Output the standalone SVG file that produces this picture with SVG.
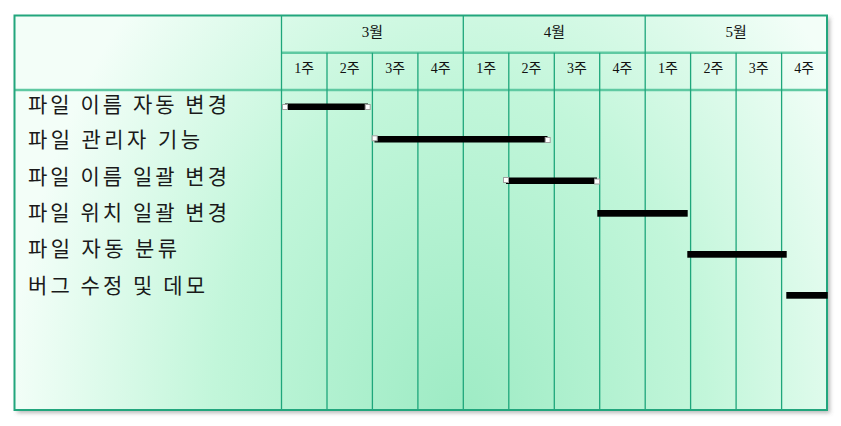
<svg xmlns="http://www.w3.org/2000/svg" width="841" height="426" viewBox="0 0 841 426">
<defs>
<radialGradient id="bg" gradientUnits="userSpaceOnUse" cx="460" cy="420" r="450" gradientTransform="translate(460 420) scale(1 1.35) translate(-460 -420)">
<stop offset="0" stop-color="#9debc4"/>
<stop offset="0.55" stop-color="#c2f6da"/>
<stop offset="1" stop-color="#f3fef8"/>
</radialGradient>
<filter id="sh" x="-5%" y="-5%" width="110%" height="115%">
<feDropShadow dx="3" dy="3" stdDeviation="2" flood-color="#606060" flood-opacity="0.45"/>
</filter>
</defs>
<style>
.grid{stroke:#1ea67b;stroke-width:1.3;fill:none}
.hline{stroke:#5fc9a2;stroke-width:2.5;fill:none}
.mon{font-family:"Liberation Serif","Noto Sans CJK KR",serif;font-size:15px;fill:#111;text-anchor:middle}
.wk{font-family:"Liberation Serif","Noto Sans CJK KR",serif;font-size:14px;fill:#111;text-anchor:middle}
.task{font-family:"Noto Sans CJK KR","Noto Sans CJK SC",sans-serif;font-size:21px;fill:#1a1a1a}
.bar{fill:#000}
.hdl{fill:#fff;stroke:#a0a0a0;stroke-width:1}
</style>
<rect x="14" y="15" width="813" height="395" fill="url(#bg)" filter="url(#sh)"/>
<g id="grid">
<line class="hline" x1="281.5" y1="52.7" x2="827" y2="52.7"/>
<line class="hline" x1="14" y1="90" x2="827" y2="90"/>
<line class="grid" x1="281.5" y1="15" x2="281.5" y2="410"/>
<line class="grid" x1="463.3" y1="15" x2="463.3" y2="410"/>
<line class="grid" x1="645.2" y1="15" x2="645.2" y2="410"/>
<line class="grid" x1="327" y1="52.7" x2="327" y2="410"/>
<line class="grid" x1="372.4" y1="52.7" x2="372.4" y2="410"/>
<line class="grid" x1="417.9" y1="52.7" x2="417.9" y2="410"/>
<line class="grid" x1="508.8" y1="52.7" x2="508.8" y2="410"/>
<line class="grid" x1="554.3" y1="52.7" x2="554.3" y2="410"/>
<line class="grid" x1="599.7" y1="52.7" x2="599.7" y2="410"/>
<line class="grid" x1="690.6" y1="52.7" x2="690.6" y2="410"/>
<line class="grid" x1="736.1" y1="52.7" x2="736.1" y2="410"/>
<line class="grid" x1="781.6" y1="52.7" x2="781.6" y2="410"/>
<rect x="14.5" y="15.5" width="812.5" height="394.5" fill="none" stroke="#22a67d" stroke-width="2"/>
</g>
<g id="months">
<text class="mon" x="372.4" y="37">3월</text>
<text class="mon" x="554.3" y="37">4월</text>
<text class="mon" x="736.1" y="37">5월</text>
</g>
<g id="weeks">
<text class="wk" x="304.2" y="73">1주</text>
<text class="wk" x="349.7" y="73">2주</text>
<text class="wk" x="395.1" y="73">3주</text>
<text class="wk" x="440.6" y="73">4주</text>
<text class="wk" x="486.1" y="73">1주</text>
<text class="wk" x="531.5" y="73">2주</text>
<text class="wk" x="577" y="73">3주</text>
<text class="wk" x="622.4" y="73">4주</text>
<text class="wk" x="667.9" y="73">1주</text>
<text class="wk" x="713.4" y="73">2주</text>
<text class="wk" x="758.8" y="73">3주</text>
<text class="wk" x="804.3" y="73">4주</text>
</g>
<g id="tasks">
<text class="task" x="28" y="111.5" textLength="199" lengthAdjust="spacing">파일 이름 자동 변경</text>
<text class="task" x="28" y="147" textLength="172" lengthAdjust="spacing">파일 관리자 기능</text>
<text class="task" x="28" y="183.5" textLength="199" lengthAdjust="spacing">파일 이름 일괄 변경</text>
<text class="task" x="28" y="219.5" textLength="199" lengthAdjust="spacing">파일 위치 일괄 변경</text>
<text class="task" x="28" y="256" textLength="149" lengthAdjust="spacing">파일 자동 분류</text>
<text class="task" x="28" y="292.5" textLength="177" lengthAdjust="spacing">버그 수정 및 데모</text>
</g>
<g id="bar1">
<rect class="bar" x="285" y="103.5" width="83" height="6.5"/>
<rect class="hdl" x="282.5" y="104.5" width="5" height="5"/>
<rect class="hdl" x="365.2" y="104.5" width="5" height="5"/>
</g>
<g id="bar2">
<rect class="bar" x="374.5" y="136" width="173" height="6.5"/>
<rect class="hdl" x="372.2" y="135.8" width="5" height="5"/>
<rect class="hdl" x="545.2" y="137.5" width="5" height="5"/>
</g>
<g id="bar3">
<rect class="bar" x="506" y="177.5" width="91" height="6.5"/>
<rect class="hdl" x="503.5" y="177.5" width="5" height="5"/>
<rect class="hdl" x="594.5" y="179" width="5" height="5"/>
</g>
<g id="bar4">
<rect class="bar" x="597.3" y="210" width="90.4" height="6.7"/>
</g>
<g id="bar5">
<rect class="bar" x="687.3" y="251" width="99.4" height="6.7"/>
</g>
<g id="bar6">
<rect class="bar" x="786.3" y="292" width="41.4" height="6.7"/>
</g>
</svg>
